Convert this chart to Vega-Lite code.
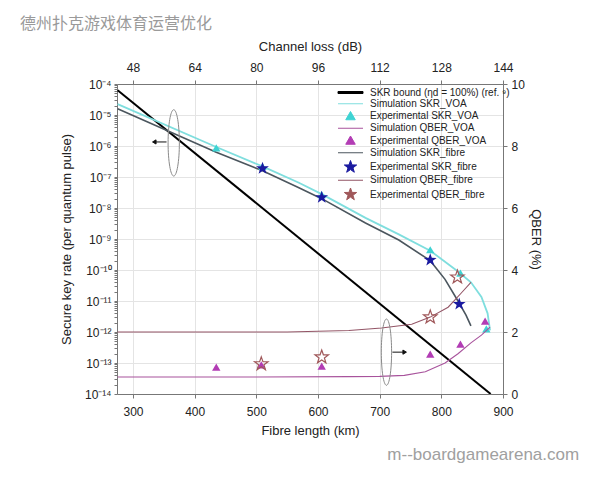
{
  "$schema": "https://vega.github.io/schema/vega-lite/v6.json",
  "width": 386,
  "height": 310,
  "autosize": {"type": "none"},
  "padding": {"left": 117, "top": 84, "right": 97, "bottom": 86},
  "background": "white",
  "title": {"text": "德州扑克游戏体育运营优化", "anchor": "start", "frame": "group", "dx": -97, "offset": 8, "font": "Noto Sans CJK SC", "fontSize": 16, "fontWeight": "normal", "color": "#9a9a9a"},
  "config": {
    "view": {"stroke": null},
    "axis": {"labelFont": "Liberation Sans", "titleFont": "Liberation Sans", "labelFontSize": 12, "titleFontSize": 13, "titleFontWeight": "normal", "labelColor": "#222222", "titleColor": "#222222", "domainColor": "#777777", "tickColor": "#777777", "gridColor": "#e4e4e4", "labelFlush": false, "labelOverlap": false}
  },
  "datasets": {
    "skrLines": [
      {"series": "SKR bound (ηd = 100%) (ref. ⁹)", "km": 275, "skr": 6.3e-5},
      {"series": "SKR bound (ηd = 100%) (ref. ⁹)", "km": 880, "skr": 1e-14},
      {"series": "Simulation SKR_VOA", "km": 275, "skr": 2.24e-5},
      {"series": "Simulation SKR_VOA", "km": 435, "skr": 9.3e-7},
      {"series": "Simulation SKR_VOA", "km": 510, "skr": 2.19e-7},
      {"series": "Simulation SKR_VOA", "km": 569, "skr": 6.5e-8},
      {"series": "Simulation SKR_VOA", "km": 606, "skr": 2.8e-8},
      {"series": "Simulation SKR_VOA", "km": 677, "skr": 4.8e-9},
      {"series": "Simulation SKR_VOA", "km": 731, "skr": 1.41e-9},
      {"series": "Simulation SKR_VOA", "km": 782, "skr": 4.2e-10},
      {"series": "Simulation SKR_VOA", "km": 827, "skr": 8.9e-11},
      {"series": "Simulation SKR_VOA", "km": 848, "skr": 4.0e-11},
      {"series": "Simulation SKR_VOA", "km": 865, "skr": 1.35e-11},
      {"series": "Simulation SKR_VOA", "km": 875, "skr": 4.0e-12},
      {"series": "Simulation SKR_VOA", "km": 879, "skr": 1.12e-12},
      {"series": "Simulation SKR_fibre", "km": 275, "skr": 1.58e-5},
      {"series": "Simulation SKR_fibre", "km": 435, "skr": 6.3e-7},
      {"series": "Simulation SKR_fibre", "km": 510, "skr": 1.58e-7},
      {"series": "Simulation SKR_fibre", "km": 569, "skr": 4.5e-8},
      {"series": "Simulation SKR_fibre", "km": 606, "skr": 2.0e-8},
      {"series": "Simulation SKR_fibre", "km": 677, "skr": 3.3e-9},
      {"series": "Simulation SKR_fibre", "km": 731, "skr": 9.3e-10},
      {"series": "Simulation SKR_fibre", "km": 782, "skr": 2.0e-10},
      {"series": "Simulation SKR_fibre", "km": 806, "skr": 5.0e-11},
      {"series": "Simulation SKR_fibre", "km": 827, "skr": 1.0e-11},
      {"series": "Simulation SKR_fibre", "km": 840, "skr": 3.5e-12},
      {"series": "Simulation SKR_fibre", "km": 848, "skr": 1.58e-12}
    ],
    "skrTri": [
      {"series": "Experimental SKR_VOA", "km": 435, "skr": 8.7e-7},
      {"series": "Experimental SKR_VOA", "km": 510, "skr": 2.2e-7},
      {"series": "Experimental SKR_VOA", "km": 606, "skr": 2.7e-8},
      {"series": "Experimental SKR_VOA", "km": 782, "skr": 4.5e-10},
      {"series": "Experimental SKR_VOA", "km": 831, "skr": 8.0e-11},
      {"series": "Experimental SKR_VOA", "km": 873, "skr": 1.26e-12}
    ],
    "skrStar": [
      {"series": "Experimental SKR_fibre", "km": 510, "skr": 1.9e-7},
      {"series": "Experimental SKR_fibre", "km": 606, "skr": 2.2e-8},
      {"series": "Experimental SKR_fibre", "km": 782, "skr": 2.1e-10},
      {"series": "Experimental SKR_fibre", "km": 829, "skr": 7.9e-12}
    ],
    "skrNote": [
      {"kind": "ellipse", "km": 366, "skr": 1.26e-6},
      {"kind": "arrow", "km": 343, "skr": 1.35e-6}
    ],
    "qberLines": [
      {"series": "Simulation QBER_VOA", "km": 275, "qber": 0.55},
      {"series": "Simulation QBER_VOA", "km": 500, "qber": 0.55},
      {"series": "Simulation QBER_VOA", "km": 650, "qber": 0.56},
      {"series": "Simulation QBER_VOA", "km": 700, "qber": 0.57},
      {"series": "Simulation QBER_VOA", "km": 740, "qber": 0.6},
      {"series": "Simulation QBER_VOA", "km": 774, "qber": 0.72},
      {"series": "Simulation QBER_VOA", "km": 806, "qber": 1.0},
      {"series": "Simulation QBER_VOA", "km": 827, "qber": 1.3},
      {"series": "Simulation QBER_VOA", "km": 848, "qber": 1.65},
      {"series": "Simulation QBER_VOA", "km": 865, "qber": 1.9},
      {"series": "Simulation QBER_VOA", "km": 879, "qber": 2.16},
      {"series": "Simulation QBER_fibre", "km": 275, "qber": 2.0},
      {"series": "Simulation QBER_fibre", "km": 550, "qber": 2.0},
      {"series": "Simulation QBER_fibre", "km": 650, "qber": 2.05},
      {"series": "Simulation QBER_fibre", "km": 703, "qber": 2.13},
      {"series": "Simulation QBER_fibre", "km": 752, "qber": 2.25},
      {"series": "Simulation QBER_fibre", "km": 782, "qber": 2.48},
      {"series": "Simulation QBER_fibre", "km": 811, "qber": 2.8},
      {"series": "Simulation QBER_fibre", "km": 832, "qber": 3.25},
      {"series": "Simulation QBER_fibre", "km": 848, "qber": 3.6}
    ],
    "qberTri": [
      {"series": "Experimental QBER_VOA", "km": 435, "qber": 0.87},
      {"series": "Experimental QBER_VOA", "km": 508, "qber": 0.94},
      {"series": "Experimental QBER_VOA", "km": 606, "qber": 0.9},
      {"series": "Experimental QBER_VOA", "km": 782, "qber": 1.29},
      {"series": "Experimental QBER_VOA", "km": 831, "qber": 1.61},
      {"series": "Experimental QBER_VOA", "km": 871, "qber": 2.35}
    ],
    "qberStar": [
      {"series": "Experimental QBER_fibre", "km": 508, "qber": 0.97},
      {"series": "Experimental QBER_fibre", "km": 606, "qber": 1.19},
      {"series": "Experimental QBER_fibre", "km": 782, "qber": 2.48},
      {"series": "Experimental QBER_fibre", "km": 826, "qber": 3.77}
    ],
    "qberNote": [
      {"kind": "ellipse", "km": 711, "qber": 1.35},
      {"kind": "arrow", "km": 732, "qber": 1.35}
    ],
    "wm": [
      {"text": "m--boardgamearena.com", "km": 868, "qber": -1.97}
    ]
  },
  "layer": [
    {
      "layer": [
        {
          "data": {"name": "skrLines"},
          "mark": {"type": "line", "clip": true},
          "encoding": {
            "x": {"field": "km", "type": "quantitative", "scale": {"domain": [274, 900], "nice": false, "zero": false},
              "axis": {"orient": "bottom", "title": "Fibre length (km)", "values": [300, 350, 400, 450, 500, 550, 600, 650, 700, 750, 800, 850, 900], "labelExpr": "datum.value % 100 == 0 ? datum.label : ''", "grid": true, "tickSize": 4, "labelPadding": 8, "titlePadding": 7}},
            "y": {"field": "skr", "type": "quantitative", "scale": {"type": "log", "domain": [1e-14, 1e-4], "nice": false},
              "axis": {"orient": "left", "title": "Secure key rate (per quantum pulse)",
                "values": [1e-14,2e-14,3e-14,4e-14,5e-14,6e-14,7e-14,8e-14,9e-14,1e-13,2e-13,3e-13,4e-13,5e-13,6e-13,7e-13,8e-13,9e-13,1e-12,2e-12,3e-12,4e-12,5e-12,6e-12,7e-12,8e-12,9e-12,1e-11,2e-11,3e-11,4e-11,5e-11,6e-11,7e-11,8e-11,9e-11,1e-10,2e-10,3e-10,4e-10,5e-10,6e-10,7e-10,8e-10,9e-10,1e-9,2e-9,3e-9,4e-9,5e-9,6e-9,7e-9,8e-9,9e-9,1e-8,2e-8,3e-8,4e-8,5e-8,6e-8,7e-8,8e-8,9e-8,1e-7,2e-7,3e-7,4e-7,5e-7,6e-7,7e-7,8e-7,9e-7,1e-6,2e-6,3e-6,4e-6,5e-6,6e-6,7e-6,8e-6,9e-6,1e-5,2e-5,3e-5,4e-5,5e-5,6e-5,7e-5,8e-5,9e-5,1e-4],
                "labelExpr": "abs(log(datum.value)/LN10 - round(log(datum.value)/LN10)) < 0.01 ? '10' + replace(replace(replace(replace(replace(replace(replace(replace(replace(replace(replace(toString(round(log(datum.value)/LN10)),'-','⁻'),regexp('0','g'),'⁰'),regexp('1','g'),'¹'),regexp('2','g'),'²'),regexp('3','g'),'³'),regexp('4','g'),'⁴'),regexp('5','g'),'⁵'),regexp('6','g'),'⁶'),regexp('7','g'),'⁷'),regexp('8','g'),'⁸'),regexp('9','g'),'⁹') : ''",
                "tickSize": 3,
                "grid": true,
                "gridOpacity": {"condition": {"test": "abs(log(datum.value)/LN10 - round(log(datum.value)/LN10)) < 0.01", "value": 1}, "value": 0},
                "labelPadding": 3, "titlePadding": 11}},
            "color": {"field": "series", "type": "nominal",
              "scale": {"domain": ["SKR bound (ηd = 100%) (ref. ⁹)", "Simulation SKR_VOA", "Experimental SKR_VOA", "Simulation QBER_VOA", "Experimental QBER_VOA", "Simulation SKR_fibre", "Experimental SKR_fibre", "Simulation QBER_fibre", "Experimental QBER_fibre"],
                "range": ["#000000", "#7fdede", "#3ed3d3", "#a8539c", "#b23cb4", "#4b565e", "#1a1aa0", "#935566", "#a0585a"]},
              "legend": {"orient": "none", "legendX": 228, "legendY": 3, "title": null, "labelFont": "Liberation Sans", "labelFontSize": 10, "labelColor": "#222222", "labelLimit": 300, "symbolSize": 100, "rowPadding": 0.25, "labelOffset": 14, "symbolStrokeWidth": 1,
                "encode": {"symbols": {"update": {
                  "shape": {"signal": "datum.value=='SKR bound (ηd = 100%) (ref. ⁹)' ? 'M-2.5,-0.2H2.5V0.2H-2.5Z' : indexof(datum.value,'Experimental')==0 ? (indexof(datum.value,'VOA')>0 ? 'M0,-0.9L0.95,0.75L-0.95,0.75Z' : 'M0,-1.3L0.306,-0.421L1.236,-0.402L0.495,0.161L0.764,1.052L0,0.52L-0.764,1.052L-0.495,0.161L-1.236,-0.402L-0.306,-0.421Z') : 'M-2.5,0H2.5'"},
                  "stroke": {"signal": "datum.value=='SKR bound (ηd = 100%) (ref. ⁹)' ? 'transparent' : scale('color', datum.value)"},
                  "fill": {"signal": "(datum.value=='SKR bound (ηd = 100%) (ref. ⁹)' || datum.value=='Experimental SKR_VOA' || datum.value=='Experimental QBER_VOA' || datum.value=='Experimental SKR_fibre') ? scale('color', datum.value) : 'transparent'"},
                  "opacity": {"value": 1}
                }}}}},
            "strokeWidth": {"field": "series", "type": "nominal", "scale": {"domain": ["SKR bound (ηd = 100%) (ref. ⁹)", "Simulation SKR_VOA", "Simulation SKR_fibre"], "range": [2, 1.6, 1.1]}, "legend": null}
          }
        },
        {
          "data": {"name": "skrTri"},
          "mark": {"type": "point", "shape": "triangle-up", "filled": true, "size": 70, "opacity": 1},
          "encoding": {
            "x": {"field": "km", "type": "quantitative"},
            "y": {"field": "skr", "type": "quantitative"},
            "color": {"field": "series", "type": "nominal"}
          }
        },
        {
          "data": {"name": "skrStar"},
          "mark": {"type": "point", "shape": "M0,-1L0.235,-0.324L0.951,-0.309L0.38,0.124L0.588,0.809L0,0.4L-0.588,0.809L-0.38,0.124L-0.951,-0.309L-0.235,-0.324Z", "filled": true, "size": 180, "opacity": 1},
          "encoding": {
            "x": {"field": "km", "type": "quantitative"},
            "y": {"field": "skr", "type": "quantitative"},
            "color": {"field": "series", "type": "nominal"}
          }
        },
        {
          "data": {"name": "skrNote"},
          "transform": [{"filter": "datum.kind == 'ellipse'"}],
          "mark": {"type": "point", "shape": "M0,-1 C0.0939,-1 0.17,-0.5523 0.17,0 C0.17,0.5523 0.0939,1 0,1 C-0.0939,1 -0.17,0.5523 -0.17,0 C-0.17,-0.5523 -0.0939,-1 0,-1 Z", "size": 4400, "filled": false, "stroke": "#8a8a8a", "strokeWidth": 1, "opacity": 1},
          "encoding": {
            "x": {"field": "km", "type": "quantitative"},
            "y": {"field": "skr", "type": "quantitative"}
          }
        },
        {
          "data": {"name": "skrNote"},
          "transform": [{"filter": "datum.kind == 'arrow'"}],
          "mark": {"type": "point", "shape": "M1,0 L-0.5,0 M-0.5,-0.3 L-1,0 L-0.5,0.3 Z", "size": 196, "filled": true, "fill": "#111111", "stroke": "#111111", "strokeWidth": 1, "opacity": 1},
          "encoding": {
            "x": {"field": "km", "type": "quantitative"},
            "y": {"field": "skr", "type": "quantitative"}
          }
        }
      ]
    },
    {
      "layer": [
        {
          "data": {"name": "qberLines"},
          "mark": {"type": "line", "clip": true, "strokeWidth": 1.1},
          "encoding": {
            "x": {"field": "km", "type": "quantitative", "scale": {"domain": [274, 900], "nice": false, "zero": false},
              "axis": {"orient": "top", "title": "Channel loss (dB)", "values": [300, 350, 400, 450, 500, 550, 600, 650, 700, 750, 800, 850, 900], "labelExpr": "datum.value % 100 == 0 ? toString(round(datum.value*0.16)) : ''", "grid": false, "tickSize": 4, "labelPadding": 6, "titlePadding": 8}},
            "y": {"field": "qber", "type": "quantitative", "scale": {"domain": [0, 10], "nice": false, "zero": false},
              "axis": {"orient": "right", "title": "QBER (%)", "values": [0, 1, 2, 3, 4, 5, 6, 7, 8, 9, 10], "labelExpr": "datum.value % 2 == 0 ? datum.label : ''", "tickSize": 4, "grid": false, "labelPadding": 4, "titlePadding": 4}},
            "color": {"field": "series", "type": "nominal"}
          }
        },
        {
          "data": {"name": "qberTri"},
          "mark": {"type": "point", "shape": "triangle-up", "filled": true, "size": 70, "opacity": 1},
          "encoding": {
            "x": {"field": "km", "type": "quantitative"},
            "y": {"field": "qber", "type": "quantitative"},
            "color": {"field": "series", "type": "nominal"}
          }
        },
        {
          "data": {"name": "qberStar"},
          "mark": {"type": "point", "shape": "M0,-1L0.235,-0.324L0.951,-0.309L0.38,0.124L0.588,0.809L0,0.4L-0.588,0.809L-0.38,0.124L-0.951,-0.309L-0.235,-0.324Z", "filled": false, "size": 200, "strokeWidth": 1.2, "opacity": 1},
          "encoding": {
            "x": {"field": "km", "type": "quantitative"},
            "y": {"field": "qber", "type": "quantitative"},
            "color": {"field": "series", "type": "nominal"}
          }
        },
        {
          "data": {"name": "qberNote"},
          "transform": [{"filter": "datum.kind == 'ellipse'"}],
          "mark": {"type": "point", "shape": "M0,-1 C0.0856,-1 0.155,-0.5523 0.155,0 C0.155,0.5523 0.0856,1 0,1 C-0.0856,1 -0.155,0.5523 -0.155,0 C-0.155,-0.5523 -0.0856,-1 0,-1 Z", "size": 4400, "filled": false, "stroke": "#8a8a8a", "strokeWidth": 1, "opacity": 1},
          "encoding": {
            "x": {"field": "km", "type": "quantitative"},
            "y": {"field": "qber", "type": "quantitative"}
          }
        },
        {
          "data": {"name": "qberNote"},
          "transform": [{"filter": "datum.kind == 'arrow'"}],
          "mark": {"type": "point", "shape": "M-1,0 L0.5,0 M0.5,-0.3 L1,0 L0.5,0.3 Z", "size": 196, "filled": true, "fill": "#111111", "stroke": "#111111", "strokeWidth": 1, "opacity": 1},
          "encoding": {
            "x": {"field": "km", "type": "quantitative"},
            "y": {"field": "qber", "type": "quantitative"}
          }
        },
        {
          "data": {"name": "wm"},
          "mark": {"type": "text", "font": "Liberation Sans", "fontSize": 17, "color": "#a0a0a0", "align": "center", "baseline": "middle"},
          "encoding": {
            "x": {"field": "km", "type": "quantitative"},
            "y": {"field": "qber", "type": "quantitative"},
            "text": {"field": "text"}
          }
        }
      ]
    }
  ],
  "resolve": {"scale": {"y": "independent"}, "axis": {"x": "independent", "y": "independent"}}
}
